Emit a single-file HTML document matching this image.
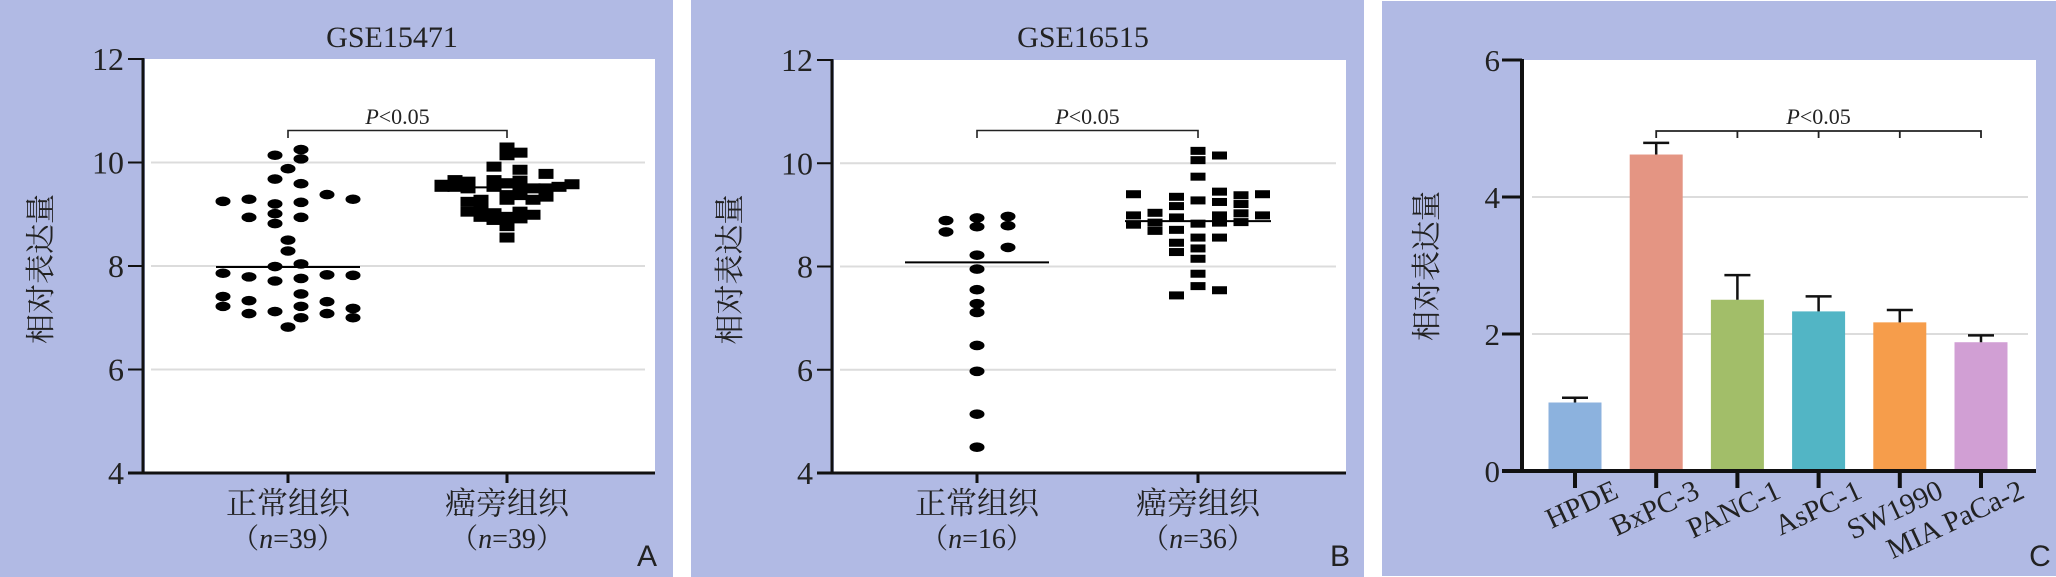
<!DOCTYPE html>
<html><head><meta charset="utf-8">
<style>
html,body{margin:0;padding:0;background:#fff;}
svg{display:block;}
text{font-family:"Liberation Serif","Noto Serif CJK SC",serif;fill:#222;}
.cjk{font-family:"Liberation Serif","Noto Serif CJK SC",serif;}
.sans{font-family:"Liberation Sans",sans-serif;}
</style></head>
<body>
<svg id="fig" width="2056" height="577" viewBox="0 0 2056 577" xmlns="http://www.w3.org/2000/svg">
  <rect x="0" y="0" width="673" height="577" fill="#b1bae4"/>
  <rect x="691" y="0" width="673" height="577" fill="#b1bae4"/>
  <rect x="1382" y="1" width="674" height="575" fill="#b1bae4"/>
</svg>
<script>
// ---------- Panel A data (GSE15471) ----------
const A_ticks = [4, 6, 8, 10, 12];
const A_categories = ["正常组织", "癌旁组织"];
const A_counts = ["（n=39）", "（n=39）"];
const A_g1_cols = [1,1,-1,0,-1,1,3,5,-5,-3,-1,1,-3,-1,1,-1,0,0,1,-1,-5,-3,-1,1,3,5,-5,1,-5,-3,1,3,5,-3,-1,1,3,5,0];
const A_g1_vals = [10.25,10.07,10.14,9.88,9.68,9.59,9.38,9.29,9.25,9.29,9.20,9.23,8.94,9.01,8.94,8.82,8.50,8.29,8.04,7.99,7.86,7.79,7.71,7.76,7.83,7.82,7.41,7.46,7.22,7.33,7.22,7.31,7.18,7.08,7.12,7.00,7.08,7.00,6.82];
const A_g2_cols = [0,0,1,-1,1,3,-5,-5,-4,-4,-3,-3,-1,-1,0,1,1,2,3,4,5,0,0,1,2,3,-3,-2,-3,-2,-2,-1,-1,0,1,1,2,0,0];
const A_g2_vals = [10.29,10.14,10.19,9.92,9.86,9.78,9.53,9.57,9.66,9.53,9.63,9.50,9.66,9.53,9.60,9.65,9.53,9.50,9.50,9.53,9.58,9.37,9.28,9.37,9.28,9.34,9.24,9.28,9.05,9.11,8.95,9.02,8.89,8.95,9.05,8.92,8.99,8.77,8.55];
const A_medians = [7.98, 9.52];

// ---------- Panel B data (GSE16515) ----------
const B_ticks = [4, 6, 8, 10, 12];
const B_categories = ["正常组织", "癌旁组织"];
const B_counts = ["（n=16）", "（n=36）"];
const B_g1_cols = [-2,-2,0,0,2,2,2,0,0,0,0,0,0,0,0,0];
const B_g1_vals = [8.89,8.67,8.94,8.77,8.97,8.79,8.37,8.22,7.95,7.55,7.28,7.11,6.47,5.97,5.14,4.50];
const B_g2_cols = [0,0,0,0,0,0,0,0,0,0,1,1,1,1,1,1,1,-1,-1,-1,-1,-1,-1,-1,-2,-2,-2,-3,-3,-3,2,2,2,2,3,3];
const B_g2_vals = [10.24,10.06,9.74,9.28,8.83,8.56,8.35,8.15,7.86,7.62,10.15,9.45,9.25,8.99,8.85,8.56,7.54,9.35,9.17,8.95,8.71,8.46,8.28,7.44,9.04,8.85,8.69,9.40,8.99,8.81,9.38,9.21,9.03,8.86,9.40,8.99];
const B_medians = [8.08, 8.88];

// ---------- Panel C data ----------
const C_categories = ["HPDE","BxPC-3","PANC-1","AsPC-1","SW1990","MIA PaCa-2"];
const C_means = [1.0, 4.62, 2.50, 2.33, 2.17, 1.88];
const C_errors = [0.07, 0.17, 0.36, 0.22, 0.18, 0.10];
const C_ticks = [0, 2, 4, 6];
const C_colors = ["#8cb2de","#e49583","#a2be69","#52b5c5","#f69d4b","#d19fd4"];

const NS = "http://www.w3.org/2000/svg";
const svg = document.getElementById("fig");
function mk(tag, attrs, parent) {
  const el = document.createElementNS(NS, tag);
  for (const k in attrs) el.setAttribute(k, attrs[k]);
  (parent || svg).appendChild(el);
  return el;
}

function scatterPanel(cfg) {
  const g = mk("g", {});
  
  
  const y = v => cfg.yTop + (cfg.yMax - v) / (cfg.yMax - cfg.yMin) * (cfg.yBot - cfg.yTop);
  // plot area
  let el = mk("rect", {x: cfg.axisX + 2, y: cfg.yTop, width: cfg.right - cfg.axisX - 2, height: cfg.yBot - cfg.yTop, fill: "#fff"}, g);
  
  
  // gridlines
  cfg.ticks.forEach(t => {
    if (t === cfg.yMin || t === cfg.yMax) return;
    const gl = mk("line", {x1: cfg.axisX + 8, x2: cfg.right - 10, y1: y(t), y2: y(t), stroke: "#dcdcdc", "stroke-width": 2}, g);
    
    
  });
  // ticks & labels
  cfg.ticks.forEach(t => {
    const tk = mk("line", {x1: cfg.axisX - 15, x2: cfg.axisX, y1: y(t), y2: y(t), stroke: "#111", "stroke-width": 2}, g);
    
    
    const tl = mk("text", {x: cfg.axisX - 19, y: y(t) + 11, "text-anchor": "end", "font-size": 32}, g);
    tl.textContent = t;
    
    
  });
  // axes
  el = mk("line", {x1: cfg.axisX, x2: cfg.axisX, y1: cfg.yTop - 1, y2: cfg.yBot + 1, stroke: "#111", "stroke-width": 3}, g);
  
  
  el = mk("line", {x1: cfg.axisX - 15, x2: cfg.right, y1: cfg.yBot, y2: cfg.yBot, stroke: "#111", "stroke-width": 3}, g);
  
  
  // y title
  el = mk("text", {x: 0, y: 0, "text-anchor": "middle", "font-size": 30, "class": "cjk", fill: "#333", transform: `translate(${cfg.axisX - 92},${(cfg.yTop + cfg.yBot) / 2 + 3}) rotate(-90)`}, g);
  el.textContent = "相对表达量";
  
  
  // title
  el = mk("text", {x: cfg.titleX, y: 47, "text-anchor": "middle", "font-size": 30}, g);
  el.textContent = cfg.title;
  
  
  // categories
  cfg.cats.forEach((c, i) => {
    const cx = cfg.catX[i];
    const tk = mk("line", {x1: cx, x2: cx, y1: cfg.yBot, y2: cfg.yBot + 10, stroke: "#111", "stroke-width": 3}, g);
    
    
    const t1 = mk("text", {x: cx, y: 514, "text-anchor": "middle", "font-size": 31, "class": "cjk", fill: "#333"}, g);
    t1.textContent = c;
    
    
    const t2 = mk("text", {x: cx, y: 548, "text-anchor": "middle", "font-size": 28, "class": "cjk", fill: "#333"}, g);
    const parts = cfg.counts[i].split("n");
    t2.appendChild(document.createTextNode(parts[0]));
    const it = mk("tspan", {"font-style": "italic"}, t2);
    it.textContent = "n";
    t2.appendChild(document.createTextNode(parts[1]));
    
    
  });
  // significance bracket
  el = mk("path", {d: `M${cfg.catX[0]},138 V130.5 H${cfg.catX[1]} V138`, fill: "none", stroke: "#222", "stroke-width": 1.6}, g);
  
  
  el = mk("text", {x: (cfg.catX[0] + cfg.catX[1]) / 2, y: 124, "text-anchor": "middle", "font-size": 22}, g);
  const ip = mk("tspan", {"font-style": "italic"}, el);
  ip.textContent = "P";
  el.appendChild(document.createTextNode("<0.05"));
  
  
  // group 1 points (ellipses)
  cfg.g1cols.forEach((c, i) => {
    const p = mk("ellipse", {cx: cfg.catX[0] + c * cfg.unit1, cy: y(cfg.g1vals[i]), rx: 7.5, ry: 4.8, fill: "#000"}, g);
    
    
  });
  // group 2 points (squares)
  cfg.g2cols.forEach((c, i) => {
    const p = mk("rect", {x: cfg.catX[1] + c * cfg.unit2 - 7.5, y: y(cfg.g2vals[i]) - cfg.sqH / 2, width: 15, height: cfg.sqH, fill: "#000"}, g);
    
    
  });
  // median lines
  cfg.medians.forEach((m, i) => {
    const ml = mk("line", {x1: cfg.catX[i] - cfg.medHalf[i], x2: cfg.catX[i] + cfg.medHalf[i], y1: y(m), y2: y(m), stroke: "#000", "stroke-width": 2}, g);
    
    
  });
  // panel letter
  el = mk("text", {x: cfg.letterX, y: 566, "text-anchor": "middle", "font-size": 30, "class": "sans", fill: "#111"}, g);
  el.textContent = cfg.letter;
  
  
}

scatterPanel({id: "panel-a", title: "GSE15471", titleX: 392, letter: "A", letterX: 647,
  axisX: 143, right: 655, yTop: 59, yBot: 473, yMin: 4, yMax: 12, ticks: A_ticks,
  cats: A_categories, counts: A_counts, catX: [288, 507], unit1: 13, unit2: 13, sqH: 10,
  g1cols: A_g1_cols, g1vals: A_g1_vals, g2cols: A_g2_cols, g2vals: A_g2_vals,
  medians: A_medians, medHalf: [72, 72]});

scatterPanel({id: "panel-b", title: "GSE16515", titleX: 1083, letter: "B", letterX: 1340,
  axisX: 832, right: 1346, yTop: 60, yBot: 473, yMin: 4, yMax: 12, ticks: B_ticks,
  cats: B_categories, counts: B_counts, catX: [977, 1198], unit1: 15.5, unit2: 21.5, sqH: 8,
  g1cols: B_g1_cols, g1vals: B_g1_vals, g2cols: B_g2_cols, g2vals: B_g2_vals,
  medians: B_medians, medHalf: [72, 73]});

// ---------- Panel C bar chart ----------
(function () {
  const g = mk("g", {});
  
  
  const axisX = 1522, right = 2036, yTop = 60, yBot = 471, yMax = 6;
  const y = v => yBot - v / yMax * (yBot - yTop);
  const x0 = 1575, step = 81.2, bw = 53;
  const xc = i => x0 + i * step;
  let el = mk("rect", {x: axisX + 2, y: yTop, width: right - axisX - 2, height: yBot - yTop, fill: "#fff"}, g);
  
  
  C_ticks.forEach(t => {
    if (t !== 0 && t !== yMax) {
      const gl = mk("line", {x1: axisX + 10, x2: right - 8, y1: y(t), y2: y(t), stroke: "#dcdcdc", "stroke-width": 2}, g);
      
      
    }
    const tk = mk("line", {x1: axisX - 20, x2: axisX, y1: y(t), y2: y(t), stroke: "#111", "stroke-width": 3}, g);
    
    
    const tl = mk("text", {x: axisX - 22, y: y(t) + 11, "text-anchor": "end", "font-size": 31}, g);
    tl.textContent = t;
    
    
  });
  C_means.forEach((m, i) => {
    const b = mk("rect", {x: xc(i) - bw / 2, y: y(m), width: bw, height: yBot - y(m), fill: C_colors[i]}, g);
    
    
    const e = mk("path", {d: `M${xc(i)},${y(m)} V${y(m + C_errors[i])} M${xc(i) - 13},${y(m + C_errors[i])} H${xc(i) + 13}`, stroke: "#111", "stroke-width": 2.5, fill: "none"}, g);
    
    
    const tk = mk("line", {x1: xc(i), x2: xc(i), y1: yBot, y2: yBot + 17, stroke: "#111", "stroke-width": 4}, g);
    
    
    const lbl = mk("text", {x: 0, y: 0, "text-anchor": "end", "font-size": 29, transform: `translate(${xc(i) + 45},${497}) rotate(-25)`}, g);
    lbl.textContent = C_categories[i];
    
    
  });
  el = mk("line", {x1: axisX, x2: axisX, y1: yTop - 1, y2: yBot + 2, stroke: "#111", "stroke-width": 4}, g);
  
  
  el = mk("line", {x1: axisX - 20, x2: right, y1: yBot, y2: yBot, stroke: "#111", "stroke-width": 4}, g);
  
  
  // bracket
  let d = `M${xc(1)},138 V131 H${xc(5)} V138`;
  for (let i = 2; i < 5; i++) d += ` M${xc(i)},131 V138`;
  el = mk("path", {d: d, fill: "none", stroke: "#222", "stroke-width": 1.8}, g);
  
  
  el = mk("text", {x: xc(3), y: 124, "text-anchor": "middle", "font-size": 22}, g);
  const ip = mk("tspan", {"font-style": "italic"}, el);
  ip.textContent = "P";
  el.appendChild(document.createTextNode("<0.05"));
  
  
  el = mk("text", {x: 0, y: 0, "text-anchor": "middle", "font-size": 30, "class": "cjk", fill: "#333", transform: `translate(1437,266) rotate(-90)`}, g);
  el.textContent = "相对表达量";
  
  
  el = mk("text", {x: 2040, y: 566, "text-anchor": "middle", "font-size": 30, "class": "sans", fill: "#111"}, g);
  el.textContent = "C";
  
  
})();
</script>
</body></html>
